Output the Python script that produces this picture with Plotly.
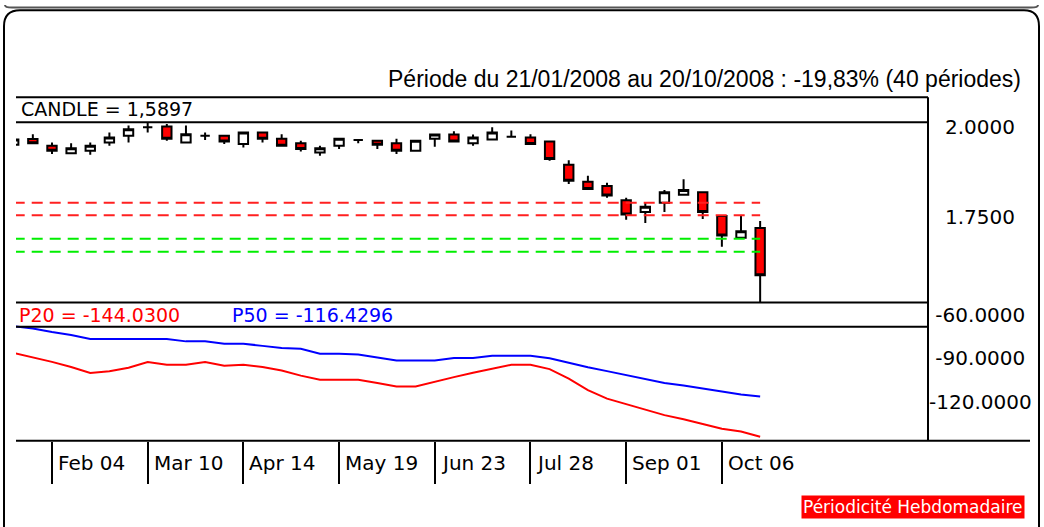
import plotly.graph_objects as go
import pandas as pd

W, H = 1044, 527
# the captured picture shows the page slightly compressed vertically with a small
# strip on top; map target picture rows to page rows accordingly
TOP_STRIP = 7.88
VSCALE = (H + 8) / H


def px(x):
    return x / W


def py(y):
    return 1 - ((y - TOP_STRIP) * VSCALE) / H


# ---------------- data ----------------
weeks = [d.strftime("%Y-%m-%d") for d in pd.date_range("2008-01-21", periods=40, freq="7D")]

opens = [1.952, 1.9675, 1.949, 1.928, 1.935, 1.958, 1.977, 2.000, 2.002, 1.958,
         1.977, 1.977, 1.954, 1.986, 1.968, 1.956, 1.930, 1.949, 1.965, 1.963,
         1.956, 1.935, 1.968, 1.980, 1.956, 1.966, 1.974, 1.972, 1.961, 1.896,
         1.849, 1.837, 1.798, 1.765, 1.791, 1.813, 1.820, 1.754, 1.694, 1.721]
highs = [1.968, 1.981, 1.958, 1.956, 1.958, 1.986, 2.005, 2.020, 2.009, 2.005,
         1.986, 1.977, 1.986, 1.986, 1.981, 1.963, 1.949, 1.968, 1.966, 1.963,
         1.968, 1.963, 1.980, 1.989, 1.980, 2.000, 1.991, 1.981, 1.961, 1.909,
         1.866, 1.846, 1.805, 1.791, 1.826, 1.856, 1.820, 1.754, 1.754, 1.740]
lows = [1.940, 1.953, 1.926, 1.928, 1.924, 1.949, 1.958, 1.986, 1.963, 1.958,
        1.965, 1.954, 1.944, 1.958, 1.949, 1.933, 1.921, 1.940, 1.956, 1.940,
        1.926, 1.935, 1.946, 1.961, 1.949, 1.966, 1.974, 1.954, 1.907, 1.843,
        1.829, 1.805, 1.744, 1.735, 1.765, 1.813, 1.746, 1.669, 1.694, 1.500]
closes = [1.966, 1.9556, 1.935, 1.942, 1.949, 1.972, 1.995, 2.000, 1.968, 1.981,
          1.977, 1.961, 1.986, 1.968, 1.949, 1.940, 1.942, 1.968, 1.965, 1.952,
          1.935, 1.963, 1.980, 1.961, 1.972, 1.986, 1.974, 1.954, 1.912, 1.852,
          1.829, 1.811, 1.758, 1.780, 1.820, 1.826, 1.765, 1.700, 1.712, 1.5897]

resistance_levels = [1.791, 1.756]
support_levels = [1.691, 1.655]

p20 = [-86.4, -89.2, -92.5, -96.0, -100.2, -99.0, -96.5, -92.6, -94.5, -94.5,
       -92.6, -95.2, -94.5, -96.0, -98.5, -102.0, -104.8, -104.8, -104.8, -107.0,
       -109.4, -109.4, -106.0, -103.0, -100.0, -97.0, -94.5, -94.5, -97.5, -104.0,
       -112.0, -117.8, -121.5, -125.5, -129.2, -132.0, -135.0, -138.5, -140.5, -144.03]
p50 = [-68.0, -69.5, -72.0, -74.0, -76.8, -76.8, -76.8, -76.8, -76.8, -78.4,
       -78.4, -80.0, -80.0, -81.5, -83.0, -83.5, -86.9, -86.9, -87.5, -89.5,
       -91.5, -91.5, -91.5, -89.9, -89.9, -88.3, -88.3, -88.3, -90.0, -93.2,
       -96.2, -98.9, -101.5, -104.2, -107.0, -108.8, -110.8, -112.8, -115.0, -116.43]

tick_dates = ["2008-02-04", "2008-03-10", "2008-04-14", "2008-05-19",
              "2008-06-23", "2008-07-28", "2008-09-01", "2008-10-06"]
tick_labels = ["Feb 04", "Mar 10", "Apr 14", "May 19", "Jun 23", "Jul 28", "Sep 01", "Oct 06"]

price_ticks = [2.0, 1.75]
price_tick_text = ["2.0000", "1.7500"]
osc_ticks = [-60, -90, -120]
osc_tick_text = ["\u00a0-60.0000", "\u00a0-90.0000", "-120.0000"]

title_text = "Période du 21/01/2008 au 20/10/2008 : -19,83% (40 périodes)"
candle_label = "CANDLE = 1,5897"
p20_label = "P20 = -144.0300"
p50_label = "P50 = -116.4296"
period_label = "Périodicité Hebdomadaire"

# ---------------- figure ----------------
FONT = "DejaVu Sans"
fig = go.Figure()

fig.add_trace(go.Candlestick(
    x=weeks, open=opens, high=highs, low=lows, close=closes,
    increasing=dict(line=dict(color="black", width=2), fillcolor="white"),
    decreasing=dict(line=dict(color="black", width=2), fillcolor="#FF0000"),
    whiskerwidth=0, xaxis="x", yaxis="y", hoverinfo="skip",
))

for lvl in resistance_levels:
    fig.add_trace(go.Scatter(x=[weeks[0], weeks[-1]], y=[lvl, lvl], mode="lines",
                             line=dict(color="#FF2020", width=2, dash="11px,7px"),
                             xaxis="x", yaxis="y", hoverinfo="skip"))
for lvl in support_levels:
    fig.add_trace(go.Scatter(x=[weeks[0], weeks[-1]], y=[lvl, lvl], mode="lines",
                             line=dict(color="#00EE00", width=2, dash="11px,7px"),
                             xaxis="x", yaxis="y", hoverinfo="skip"))

fig.add_trace(go.Scatter(x=weeks, y=p50, mode="lines", line=dict(color="#0000FF", width=2),
                         xaxis="x2", yaxis="y2", hoverinfo="skip"))
fig.add_trace(go.Scatter(x=weeks, y=p20, mode="lines", line=dict(color="#FF0000", width=2),
                         xaxis="x2", yaxis="y2", hoverinfo="skip"))

xdom = [px(16), px(928)]
xrange_ = [0.12, 47.77]

fig.update_layout(
    width=W, height=H, autosize=False,
    margin=dict(l=0, r=0, t=0, b=0),
    paper_bgcolor="white", plot_bgcolor="white",
    showlegend=False,
    xaxis=dict(domain=xdom, range=xrange_, type="category", anchor="y",
               showticklabels=False, showgrid=False, zeroline=False, ticks="",
               rangeslider=dict(visible=False), fixedrange=True),
    yaxis=dict(domain=[py(303), py(123)], range=[1.5139, 2.0139], side="right", anchor="x",
               tickvals=price_ticks, ticktext=price_tick_text, showgrid=False, zeroline=False,
               ticks="outside", ticklen=12, tickcolor="rgba(0,0,0,0)",
               tickfont=dict(family=FONT, size=20, color="black"), fixedrange=True),
    xaxis2=dict(domain=xdom, range=xrange_, type="category", anchor="y2",
                tickvals=tick_dates, showticklabels=False, showgrid=False, zeroline=False,
                ticks="outside", ticklen=42, tickwidth=2, tickcolor="black", fixedrange=True),
    yaxis2=dict(domain=[py(441), py(303)], range=[-146.9, -51.72], side="right", anchor="x2",
                tickvals=osc_ticks, ticktext=osc_tick_text, showgrid=False, zeroline=False,
                ticks="", tickfont=dict(family=FONT, size=20, color="black"), fixedrange=True),
)

shapes = []
# panel borders
for yy in [98, 123, 303, 327]:
    shapes.append(dict(type="line", xref="paper", yref="paper", x0=px(16), x1=px(928),
                       y0=py(yy), y1=py(yy), line=dict(color="black", width=2)))
shapes.append(dict(type="line", xref="paper", yref="paper", x0=px(16), x1=px(1030),
                   y0=py(441), y1=py(441), line=dict(color="black", width=2)))
shapes.append(dict(type="line", xref="paper", yref="paper", x0=px(928), x1=px(928),
                   y0=py(98), y1=py(441), line=dict(color="black", width=2)))
# outer rounded frame
frame = (f"M {px(4)},{py(527)} L {px(4)},{py(27)} Q {px(4)},{py(11)} {px(20)},{py(11)} "
         f"L {px(1024)},{py(11)} Q {px(1039)},{py(11)} {px(1039)},{py(27)} L {px(1039)},{py(527)}")
shapes.append(dict(type="path", xref="paper", yref="paper", path=frame,
                   line=dict(color="black", width=2)))
top_box = (f"M {px(5)},{py(6)} Q {px(5)},{py(8.5)} {px(12)},{py(8.5)} "
           f"L {px(1031)},{py(8.5)} Q {px(1038)},{py(8.5)} {px(1038)},{py(6)}")
shapes.append(dict(type="path", xref="paper", yref="paper", path=top_box,
                   line=dict(color="#555555", width=2)))
fig.update_layout(shapes=shapes)

ann = []
ann.append(dict(text=title_text, x=px(1023), y=py(80), xref="paper", yref="paper",
                xanchor="right", yanchor="middle", showarrow=False,
                font=dict(family="Liberation Sans", size=23, color="black")))
ann.append(dict(text=candle_label, x=px(19), y=py(110), xref="paper", yref="paper",
                xanchor="left", yanchor="middle", showarrow=False,
                font=dict(family=FONT, size=19, color="black")))
ann.append(dict(text=p20_label, x=px(17), y=py(315), xref="paper", yref="paper",
                xanchor="left", yanchor="middle", showarrow=False,
                font=dict(family=FONT, size=19, color="#FF0000")))
ann.append(dict(text=p50_label, x=px(230), y=py(315), xref="paper", yref="paper",
                xanchor="left", yanchor="middle", showarrow=False,
                font=dict(family=FONT, size=19, color="#0000FF")))
for d, lab in zip(tick_dates, tick_labels):
    ann.append(dict(text=lab, x=d, y=py(463), xref="x2", yref="paper",
                    xanchor="left", yanchor="middle", xshift=4, showarrow=False,
                    font=dict(family=FONT, size=20, color="black")))
ann.append(dict(text=period_label, x=px(1025), y=py(507.5), xref="paper", yref="paper",
                xanchor="right", yanchor="middle", showarrow=False, bgcolor="#FF0000",
                borderpad=1, font=dict(family=FONT, size=17, color="white")))
fig.update_layout(annotations=ann)

fig.write_html(
    "out.html",
    config={"displayModeBar": False},
    post_script=("document.documentElement.style.margin='0';"
                 "document.documentElement.style.overflow='hidden';"
                 "document.body.style.margin='0';document.body.style.overflow='hidden';"),
)
